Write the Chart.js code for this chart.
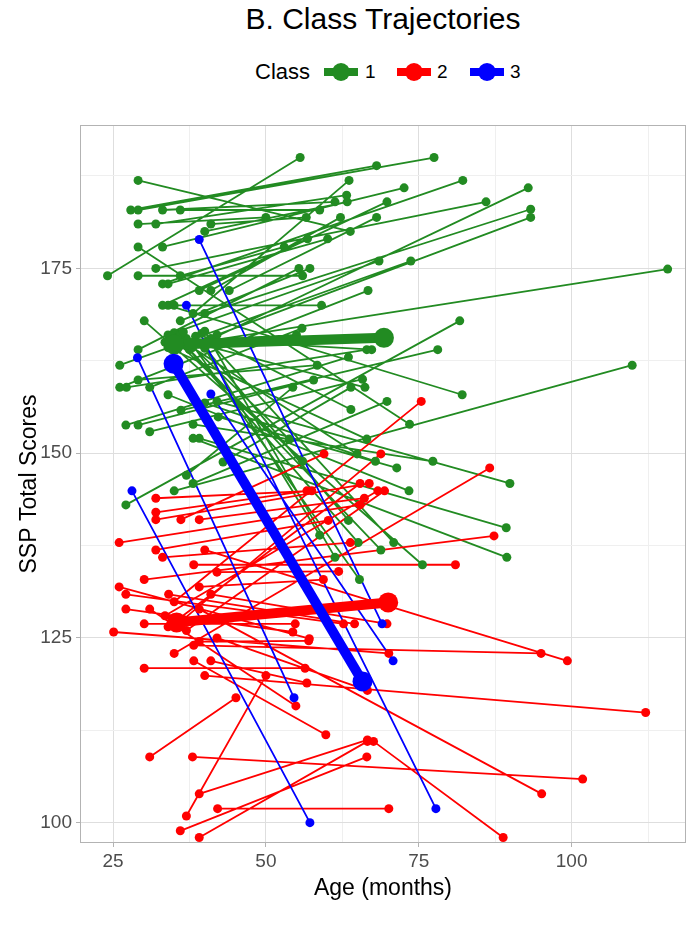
<!DOCTYPE html>
<html>
<head>
<meta charset="utf-8">
<script src="https://cdn.jsdelivr.net/npm/chart.js@4.4.1/dist/chart.umd.min.js"></script>
<style>
  body { margin: 0; background: #fff; font-family: "Liberation Sans", Arial, sans-serif; }
  #wrap { position: relative; width: 696px; height: 930px; }
  #title { position: absolute; left: 80px; width: 606px; top: 1px; text-align: center; font-size: 30px; line-height: 36px; color: #000; }
  .lg { position: absolute; top: 60px; height: 24px; line-height: 24px; font-size: 22px; color: #000; }
  .key { position: absolute; top: 60px; width: 34px; height: 24px; }
  .key .ln { position: absolute; left: 0; top: 8px; width: 34px; height: 8px; }
  .key .dt { position: absolute; left: 8px; top: 3px; width: 18px; height: 18px; border-radius: 50%; }
  canvas { position: absolute; left: 0; top: 0; }
</style>
</head>
<body>
<div id="wrap">
  <div id="title">B. Class Trajectories</div>
  <div class="lg" style="left:255px">Class</div>
  <div class="key" style="left:324px"><div class="ln" style="background:#228B22"></div><div class="dt" style="background:#228B22"></div></div>
  <div class="lg" style="left:365px;font-size:19px">1</div>
  <div class="key" style="left:397px"><div class="ln" style="background:#FF0000"></div><div class="dt" style="background:#FF0000"></div></div>
  <div class="lg" style="left:437px;font-size:19px">2</div>
  <div class="key" style="left:470px"><div class="ln" style="background:#0000FF"></div><div class="dt" style="background:#0000FF"></div></div>
  <div class="lg" style="left:510px;font-size:19px">3</div>
  <canvas id="chartCanvas" width="696" height="930"></canvas>
</div>
<script>
// class 1 (green): first and second assessment
const greenAge1 = [24.1, 29.1, 32.0, 40.5, 40.0, 42.0, 35.5, 35.0, 27.1, 34.0, 36.1, 29.1, 27.9, 38.1, 33.1, 33.1, 42.0, 39.1, 38.1, 34.0,
  38.1, 42.2, 40.0, 30.1, 39.5, 37.5, 35.0, 29.1, 36.0, 29.1, 32.0, 33.1, 40.0, 39.1, 36.0, 41.0, 41.0, 44.0, 29.1, 33.1,
  34.0, 29.1, 36.0, 34.0, 26.1, 26.1, 35.0, 31.0, 33.5, 27.2, 37.0, 29.1, 27.1, 29.1, 31.0, 39.0, 43.0, 37.0, 38.1, 41.0,
  34.0, 36.0, 38.0, 34.5, 38.5, 40.0, 40.0, 36.5];
const greenScore1 = [174.0, 174.0, 175.0, 165.2, 168.9, 166.0, 164.5, 144.9, 143.0, 170.0, 155.8, 182.9, 182.9, 168.9, 177.9, 172.9, 157.0, 152.0, 152.0, 157.9,
  153.9, 154.9, 156.8, 167.9, 166.2, 164.0, 166.3, 177.9, 174.0, 181.0, 181.0, 182.9, 180.0, 172.0, 182.9, 181.0, 172.0, 172.0, 186.9, 170.0,
  172.9, 164.0, 167.9, 166.0, 161.9, 158.9, 170.0, 158.9, 165.0, 158.9, 165.5, 159.9, 153.8, 153.8, 152.9, 164.8, 148.8, 147.0, 145.9, 165.5,
  164.3, 166.0, 164.3, 165.8, 165.8, 164.2, 166.5, 166.4];
const greenAge2 = [55.6, 56.0, 86.0, 92.9, 93.3, 93.3, 115.7, 109.9, 81.7, 82.1, 78.1, 77.5, 68.1, 63.6, 72.6, 82.2, 89.9, 89.3, 89.4, 73.4,
  77.3, 71.4, 67.9, 75.6, 70.9, 68.8, 65.1, 73.5, 53.0, 50.0, 63.2, 61.3, 63.3, 69.8, 58.8, 56.6, 62.2, 68.1, 63.8, 56.8,
  60.1, 55.4, 57.2, 68.5, 73.7, 66.7, 59.1, 55.9, 55.0, 66.5, 67.3, 58.4, 63.5, 57.8, 65.8, 66.2, 63.9, 54.4, 69.8, 63.9,
  66.5, 53.8, 64.9, 56.0, 63.5, 58.8, 61.3, 65.3];
const greenScore2 = [190.0, 174.0, 184.0, 185.9, 183.0, 181.9, 174.9, 161.9, 167.9, 157.9, 164.0, 190.0, 188.9, 186.9, 185.9, 186.9, 145.9, 139.9, 135.9, 144.9,
  148.9, 148.0, 148.9, 134.9, 137.9, 136.9, 137.9, 153.9, 177.9, 181.9, 184.9, 184.0, 184.0, 184.0, 182.9, 181.9, 181.9, 181.9, 180.0, 179.0,
  179.0, 175.0, 175.0, 176.0, 176.0, 172.0, 170.0, 166.9, 166.0, 164.0, 164.0, 161.9, 163.0, 159.9, 160.0, 158.9, 158.9, 158.9, 157.0, 155.9,
  151.9, 151.9, 149.9, 148.9, 140.9, 138.9, 135.9, 132.9];

// class 2 (red)
const redAge1 = [35.0, 35.0, 30.1, 38.2, 38.2, 40.0, 40.0, 38.0, 39.1, 67.6, 42.1, 39.1, 36.0, 37.0, 39.1, 31.0, 30.1, 31.0, 41.0, 38.2,
  42.0, 25.1, 39.1, 26.0, 30.1, 27.1, 27.1, 34.1, 41.0, 39.1, 42.0, 33.1, 32.0, 26.0, 39.1, 36.1, 32.0, 32.0, 32.0, 34.0,
  36.5, 33.5, 37.0];
const redScore1 = [129.9, 122.9, 132.9, 134.9, 124.0, 136.9, 119.9, 108.9, 128.9, 111.0, 101.9, 98.0, 98.9, 100.9, 103.9, 108.9, 120.9, 128.9, 121.9, 121.9,
  125.0, 125.8, 124.5, 131.9, 126.9, 128.9, 130.9, 130.9, 130.9, 131.9, 133.9, 135.9, 136.9, 137.9, 141.0, 141.0, 141.0, 142.0, 143.9, 126.5,
  127.5, 128.0, 126.0];
const redAge2 = [75.4, 86.6, 87.3, 81.0, 95.0, 99.3, 112.1, 101.8, 95.1, 88.8, 70.1, 66.6, 66.5, 50.0, 66.6, 45.1, 56.4, 54.9, 56.7, 59.8,
  66.6, 70.1, 57.0, 57.1, 54.8, 54.4, 62.7, 64.5, 69.8, 59.4, 61.9, 63.8, 60.2, 65.4, 66.1, 59.5, 66.9, 56.7, 57.5, 65.4,
  68.8, 68.3, 69.4];
const redScore2 = [157.0, 148.0, 138.8, 134.9, 122.9, 121.9, 114.9, 105.9, 103.9, 98.0, 101.9, 111.0, 108.9, 119.9, 111.2, 116.9, 120.9, 115.8, 118.9, 111.9,
  117.9, 122.9, 124.6, 124.9, 126.9, 125.8, 126.9, 126.9, 126.9, 132.9, 134.0, 137.9, 140.9, 143.0, 143.9, 149.9, 145.9, 144.9, 144.9, 145.9,
  149.9, 144.9, 144.9];

// class 3 (blue)
const blueAge1 = [39.1, 37.0, 29.0, 41.0, 28.1];
const blueScore1 = [178.9, 170.0, 162.9, 158.0, 144.9];
const blueAge2 = [69.0, 77.8, 54.6, 70.8, 57.2];
const blueScore2 = [126.9, 101.9, 116.9, 121.9, 100.0];

// class means
const meanAge1 = [35.0, 35.4, 34.9];
const meanScore1 = [164.7, 127.1, 162.1];
const meanAge2 = [69.3, 70.0, 65.8];
const meanScore2 = [165.6, 129.8, 119.1];

const classColors = ['#228B22', '#FF0000', '#0000FF'];

const xMajor = [25, 50, 75, 100];
const yMajor = [100, 125, 150, 175];

function segs(a1, s1, a2, s2) {
  const out = [];
  for (let i = 0; i < a1.length; i++) {
    out.push({ x: a1[i], y: s1[i] }, { x: a2[i], y: s2[i] }, { x: null, y: null });
  }
  return out;
}

function pts(a1, s1, a2, s2) {
  const out = [];
  for (let i = 0; i < a1.length; i++) {
    out.push({ x: a1[i], y: s1[i] }, { x: a2[i], y: s2[i] });
  }
  return out;
}

const groups = [
  [greenAge1, greenScore1, greenAge2, greenScore2],
  [redAge1, redScore1, redAge2, redScore2],
  [blueAge1, blueScore1, blueAge2, blueScore2]
];

const datasets = [];
// thin trajectories (lowest layer)
groups.forEach((g, i) => {
  datasets.push({
    data: segs(...g), showLine: true, spanGaps: false, pointRadius: 0,
    borderColor: classColors[i], borderWidth: 1.8, order: 10 - i
  });
});
// individual points
groups.forEach((g, i) => {
  datasets.push({
    data: pts(...g), showLine: false, pointRadius: 4.5, pointHoverRadius: 4.5,
    backgroundColor: classColors[i], borderWidth: 0, order: 7 - i
  });
});
// class mean trajectories (top layer)
classColors.forEach((c, i) => {
  datasets.push({
    data: [{ x: meanAge1[i], y: meanScore1[i] }, { x: meanAge2[i], y: meanScore2[i] }],
    showLine: true, borderColor: c, backgroundColor: c, borderWidth: 10,
    pointRadius: 10, pointHoverRadius: 10, pointBorderWidth: 0, order: 3 - i
  });
});

function withMinor(major) {
  const step = major[1] - major[0];
  const out = [major[0] - step / 2];
  major.forEach(v => { out.push(v, v + step / 2); });
  return out;
}

const panelBorder = {
  id: 'panelBorder',
  afterDraw(chart) {
    const { ctx, chartArea: a } = chart;
    ctx.save();
    ctx.strokeStyle = '#b3b3b3';
    ctx.lineWidth = 1;
    ctx.strokeRect(a.left + 0.5, a.top + 0.5, a.width - 1, a.height - 1);
    ctx.restore();
  }
};

const tickFont = { family: '"Liberation Sans", Arial, sans-serif', size: 19 };
const titleFont = { family: '"Liberation Sans", Arial, sans-serif', size: 23 };

function gridColor(major) {
  return ctx => major.includes(ctx.tick.value) ? '#dedede' : '#efefef';
}
function tickColor(major) {
  return ctx => major.includes(ctx.tick.value) ? '#b3b3b3' : 'rgba(0,0,0,0)';
}

new Chart(document.getElementById('chartCanvas').getContext('2d'), {
  type: 'scatter',
  data: { datasets },
  plugins: [panelBorder],
  options: {
    responsive: false,
    animation: false,
    layout: { padding: { top: 125, right: 10, left: 0, bottom: 0 } },
    plugins: { legend: { display: false }, tooltip: { enabled: false } },
    scales: {
      x: {
        min: 19.6, max: 118.7,
        afterBuildTicks: s => { s.ticks = withMinor(xMajor).filter(v => v > s.min && v < s.max).map(v => ({ value: v })); },
        afterFit: s => { s.height = 87; },
        ticks: {
          autoSkip: false, maxRotation: 0, color: '#4d4d4d', font: tickFont, padding: 3,
          callback: v => xMajor.includes(v) ? String(v) : ''
        },
        grid: { color: gridColor(xMajor), tickColor: tickColor(xMajor), lineWidth: 1, tickLength: 4 },
        border: { display: false },
        title: { display: true, text: 'Age (months)', color: '#000', font: titleFont, padding: { top: 28, bottom: 28 } }
      },
      y: {
        min: 97.25, max: 194.4,
        afterBuildTicks: s => { s.ticks = withMinor(yMajor).filter(v => v > s.min && v < s.max).map(v => ({ value: v })); },
        afterFit: s => { s.width = 80; },
        ticks: {
          autoSkip: false, color: '#4d4d4d', font: tickFont, padding: 4,
          callback: v => yMajor.includes(v) ? String(v) : ''
        },
        grid: { color: gridColor(yMajor), tickColor: tickColor(yMajor), lineWidth: 1, tickLength: 4 },
        border: { display: false },
        title: { display: true, text: 'SSP Total Scores', color: '#000', font: titleFont, padding: { top: 16, bottom: 16 } }
      }
    }
  }
});
</script>
</body>
</html>
